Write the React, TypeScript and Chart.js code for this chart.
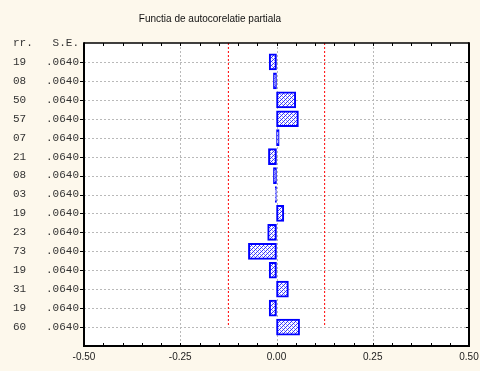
import React, { useEffect, useRef } from "react";
import { Chart, registerables } from "chart.js";

Chart.register(...registerables);

// ---- data ----
const titleText = "Functia de autocorelatie partiala";
const headerLabel = "rr.   S.E.";
const corrLabels = ["19", "08", "50", "57", "07", "21", "08", "03", "19", "23", "73", "19", "31", "19", "60"];
const seLabels = [".0640", ".0640", ".0640", ".0640", ".0640", ".0640", ".0640", ".0640", ".0640", ".0640", ".0640", ".0640", ".0640", ".0640", ".0640"];
const pacfValues = [-0.019, -0.008, 0.05, 0.057, 0.007, -0.021, -0.008, -0.003, 0.019, -0.023, -0.073, -0.019, 0.031, -0.019, 0.06];
const confLimits = [-0.125, 0.125];
const xMajorTicks = [-0.5, -0.25, 0, 0.25, 0.5];
const xRange = [-0.5, 0.5];
const xMinorStep = 0.05;

const W = 480;
const H = 371;
const BG = "#fdf8ec";

function makePattern(): CanvasPattern | string {
  const c = document.createElement("canvas");
  c.width = 4;
  c.height = 4;
  const g = c.getContext("2d");
  if (!g) return "#9999ff";
  g.fillStyle = "#ffffff";
  g.fillRect(0, 0, 4, 4);
  for (let y = 0; y < 4; y++) {
    for (let x = 0; x < 4; x++) {
      if ((x + y) % 4 === 0) {
        g.fillStyle = "#3030ff";
        g.fillRect(x, y, 1, 1);
      } else if ((((x - y) % 4) + 4) % 4 === 2) {
        g.fillStyle = "#8c8cff";
        g.fillRect(x, y, 1, 1);
      }
    }
  }
  const p = g.createPattern(c, "repeat");
  return p || "#9999ff";
}

export default function App() {
  const ref = useRef<HTMLCanvasElement | null>(null);

  useEffect(() => {
    const canvas = ref.current;
    if (!canvas) return;
    document.body.style.margin = "0";

    const labels = [headerLabel, ...corrLabels.map((c, i) => c + "   " + seLabels[i]), ""];
    const barData = [null, ...pacfValues, null];
    const rowFirst = 1;
    const rowLast = corrLabels.length;

    const isMajor = (v: number) => xMajorTicks.some((m) => Math.abs(m - v) < 1e-6);

    const decorPlugin = {
      id: "decor",
      beforeDraw(chart: any) {
        const ctx = chart.ctx;
        const a = chart.chartArea;
        ctx.save();
        ctx.fillStyle = BG;
        ctx.fillRect(0, 0, W, H);
        ctx.fillStyle = "#ffffff";
        ctx.fillRect(a.left, a.top, a.right - a.left, a.bottom - a.top);
        // title
        ctx.fillStyle = "#111111";
        ctx.font = '10px Arial, "Liberation Sans", sans-serif';
        ctx.textAlign = "center";
        ctx.textBaseline = "middle";
        ctx.fillText(titleText, 210, 19);
        ctx.restore();
      },
      beforeDatasetsDraw(chart: any) {
        const ctx = chart.ctx;
        const a = chart.chartArea;
        const xs = chart.scales.x;
        const ys = chart.scales.y;
        ctx.save();
        ctx.strokeStyle = "#b9b9b9";
        ctx.lineWidth = 1;
        ctx.setLineDash([2, 2]);
        for (let i = rowFirst; i <= rowLast; i++) {
          const y = Math.round(ys.getPixelForValue(i)) + 0.5;
          ctx.beginPath();
          ctx.moveTo(a.left, y);
          ctx.lineTo(a.right, y);
          ctx.stroke();
        }
        xMajorTicks.forEach((v) => {
          const x = Math.round(xs.getPixelForValue(v)) + 0.5;
          if (x <= a.left + 2 || x >= a.right - 2) return;
          ctx.beginPath();
          ctx.moveTo(x, a.top);
          ctx.lineTo(x, a.bottom);
          ctx.stroke();
        });
        ctx.restore();
      },
      afterDraw(chart: any) {
        const ctx = chart.ctx;
        const a = chart.chartArea;
        const xs = chart.scales.x;
        const ys = chart.scales.y;
        ctx.save();
        ctx.strokeStyle = "#000000";
        ctx.setLineDash([]);
        // frame
        ctx.lineWidth = 1.5;
        ctx.beginPath();
        ctx.moveTo(a.left, a.top);
        ctx.lineTo(a.right, a.top);
        ctx.stroke();
        ctx.lineWidth = 2;
        ctx.beginPath();
        ctx.moveTo(a.left, a.top - 0.75);
        ctx.lineTo(a.left, a.bottom);
        ctx.lineTo(a.right, a.bottom);
        ctx.lineTo(a.right, a.top - 0.75);
        ctx.stroke();
        // ticks
        ctx.lineWidth = 1;
        const nSteps = Math.round((xRange[1] - xRange[0]) / xMinorStep);
        for (let k = 1; k < nSteps; k++) {
          const v = xRange[0] + k * xMinorStep;
          const x = Math.round(xs.getPixelForValue(v)) + 0.5;
          ctx.beginPath();
          ctx.moveTo(x, a.top);
          ctx.lineTo(x, a.top + 3);
          ctx.moveTo(x, a.bottom);
          ctx.lineTo(x, a.bottom - 3);
          ctx.stroke();
        }
        for (let i = rowFirst; i <= rowLast; i++) {
          const y = Math.round(ys.getPixelForValue(i)) + 0.5;
          ctx.beginPath();
          ctx.moveTo(a.left - 4, y);
          ctx.lineTo(a.left, y);
          ctx.moveTo(a.right, y);
          ctx.lineTo(a.right - 3, y);
          ctx.stroke();
        }
        ctx.restore();
      },
    };

    const chart = new Chart(canvas, {
      type: "bar",
      data: {
        labels,
        datasets: [
          {
            type: "bar",
            data: barData as any,
            backgroundColor: makePattern() as any,
            borderColor: "#0000ff",
            borderWidth: 2,
            borderSkipped: false,
            barThickness: 16,
            order: 1,
          } as any,
          ...(confLimits.map((lim) => ({
            type: "line",
            data: [
              { x: lim, y: labels[rowFirst] },
              { x: lim, y: labels[rowLast] },
            ],
            borderColor: "#ff0000",
            borderWidth: 1,
            borderDash: [2, 2],
            pointRadius: 0,
            fill: false,
            order: 0,
          })) as any),
        ],
      },
      plugins: [decorPlugin],
      options: {
        indexAxis: "y",
        animation: false,
        responsive: false,
        events: [],
        layout: { padding: { left: 0, right: 11, top: 43, bottom: 0 } },
        plugins: {
          legend: { display: false },
          tooltip: { enabled: false },
          title: { display: false },
        },
        scales: {
          x: {
            type: "linear",
            position: "bottom",
            min: xRange[0],
            max: xRange[1],
            grid: { display: false, drawTicks: false },
            border: { display: false },
            ticks: {
              stepSize: xMinorStep,
              autoSkip: false,
              maxRotation: 0,
              padding: 5,
              color: "#222222",
              font: { family: 'Arial, "Liberation Sans", sans-serif', size: 10 },
              callback: (v: any) => (isMajor(Number(v)) ? Number(v).toFixed(2) : ""),
            },
            afterFit: (s: any) => {
              s.height = 25;
              s.paddingLeft = 0;
              s.paddingRight = 0;
            },
          },
          y: {
            type: "category",
            offset: false,
            grid: { display: false, drawTicks: false },
            border: { display: false },
            ticks: {
              autoSkip: false,
              padding: 5,
              color: "#333333",
              font: { family: '"Courier New", "Liberation Mono", monospace', size: 11 },
            },
            afterFit: (s: any) => {
              s.width = 84;
              s.paddingTop = 0;
              s.paddingBottom = 0;
            },
          },
        },
      } as any,
    });

    return () => chart.destroy();
  }, []);

  return (
    <div style={{ position: "absolute", left: 0, top: 0, width: W, height: H, background: BG }}>
      <canvas ref={ref} width={W} height={H} style={{ display: "block", width: W, height: H }} />
    </div>
  );
}
